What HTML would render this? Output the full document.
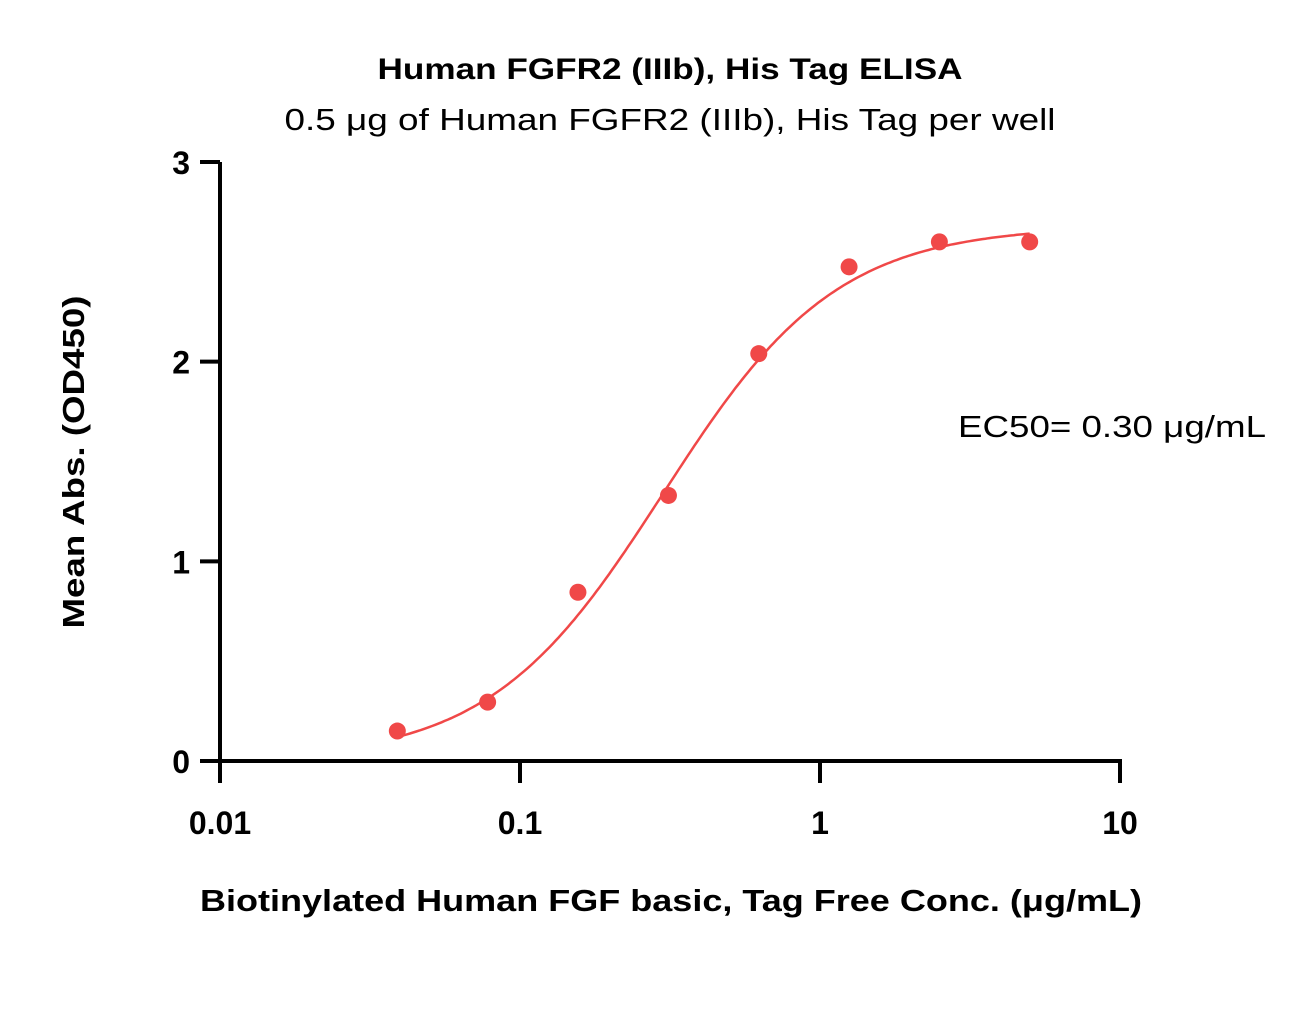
<!DOCTYPE html>
<html><head><meta charset="utf-8"><style>
body{margin:0;background:#fff;}
svg{display:block;font-family:"Liberation Sans",sans-serif;}
</style></head><body>
<svg id="chart" width="1309" height="1017" viewBox="0 0 1309 1017">
<text x="670" y="79" text-anchor="middle" font-size="30" font-weight="bold" textLength="585" lengthAdjust="spacingAndGlyphs">Human FGFR2 (IIIb), His Tag ELISA</text>
<text x="670" y="130" text-anchor="middle" font-size="31" textLength="771" lengthAdjust="spacingAndGlyphs">0.5 μg of Human FGFR2 (IIIb), His Tag per well</text>
<text transform="translate(84,462) rotate(-90)" text-anchor="middle" font-size="31" font-weight="bold" textLength="333" lengthAdjust="spacingAndGlyphs">Mean Abs. (OD450)</text>
<text x="671" y="911" text-anchor="middle" font-size="31" font-weight="bold" textLength="942" lengthAdjust="spacingAndGlyphs">Biotinylated Human FGF basic, Tag Free Conc. (μg/mL)</text>
<text x="1112" y="437" text-anchor="middle" font-size="31" textLength="308" lengthAdjust="spacingAndGlyphs">EC50= 0.30 μg/mL</text>
<g id="axes"></g>
<path id="curve" fill="none" stroke="#f04848" stroke-width="2.5"/>
<g id="points"></g>
</svg>
<script>
const concs=[0.039,0.078,0.156,0.3125,0.625,1.25,2.5,5];
const absVals=[0.15,0.295,0.845,1.33,2.04,2.475,2.6,2.6];
const yTicks=[0,1,2,3];
const xTicks=[0.01,0.1,1,10];
const xTickLabels=["0.01","0.1","1","10"];
const fitBottom=0.0,fitTop=2.68,fitEC50=0.30,fitHill=1.5;
const NS="http://www.w3.org/2000/svg";
const X0=220,X1=1120,Y0=761,Y1=162;
function xs(v){return X0+(Math.log10(v)+2)/3*(X1-X0);}
function ys(v){return Y0-v/3*(Y0-Y1);}
function mk(t,a,p){const e=document.createElementNS(NS,t);for(const k in a)e.setAttribute(k,a[k]);p.appendChild(e);return e;}
const axes=document.getElementById('axes');
let l=mk('line',{x1:X0,y1:Y1,x2:X0,y2:Y0+2,stroke:'#000','stroke-width':4},axes);


l=mk('line',{x1:X0-2,y1:Y0,x2:X1+2,y2:Y0,stroke:'#000','stroke-width':4},axes);


yTicks.forEach(v=>{
 const t=mk('line',{x1:X0-20,y1:ys(v),x2:X0,y2:ys(v),stroke:'#000','stroke-width':4},axes);
 
 
 const tx=mk('text',{x:X0-30,y:ys(v)+12,'text-anchor':'end','font-size':32,'font-weight':'bold'},axes);
 tx.textContent=v;
 
 
});
xTicks.forEach((v,i)=>{
 const t=mk('line',{x1:xs(v),y1:Y0,x2:xs(v),y2:Y0+22,stroke:'#000','stroke-width':4},axes);
 
 
 const tx=mk('text',{x:xs(v),y:Y0+73,'text-anchor':'middle','font-size':32,'font-weight':'bold'},axes);
 tx.textContent=xTickLabels[i];
 
 
});
function fit(c){const r=Math.pow(c/fitEC50,fitHill);return fitBottom+(fitTop-fitBottom)*r/(1+r);}
let d='';const a=Math.log10(concs[0]),b=Math.log10(concs[concs.length-1]);
for(let i=0;i<=200;i++){const c=Math.pow(10,a+(b-a)*i/200);d+=(i?'L':'M')+xs(c).toFixed(1)+','+ys(fit(c)).toFixed(1);}
document.getElementById('curve').setAttribute('d',d);
const pts=document.getElementById('points');
concs.forEach((c,i)=>{
 const p=mk('circle',{cx:xs(c),cy:ys(absVals[i]),r:8.5,fill:'#f04848'},pts);
 
 
});
</script>
</body></html>
